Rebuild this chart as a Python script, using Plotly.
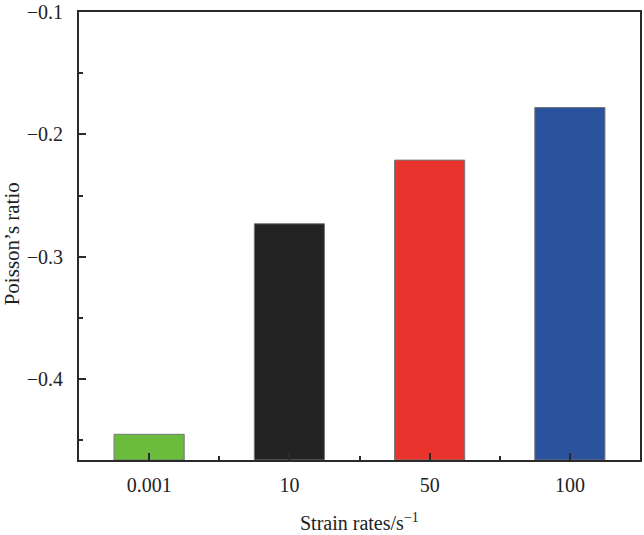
import plotly.graph_objects as go

categories = ["0.001", "10", "50", "100"]
poisson_ratio = [-0.445, -0.273, -0.221, -0.178]
bar_colors = ["#6bbb3d", "#232323", "#e8342c", "#2b529d"]
y_ticks = [-0.1, -0.2, -0.3, -0.4]

Y_MIN, Y_MAX = -0.466, -0.1
x_pos = list(range(len(categories)))

fig = go.Figure()
fig.add_trace(go.Bar(
    x=x_pos,
    y=[v - Y_MIN for v in poisson_ratio],
    base=[Y_MIN] * len(poisson_ratio),
    width=0.5,
    marker=dict(color=bar_colors, line=dict(color="#777777", width=1)),
    customdata=poisson_ratio,
    hovertemplate="%{customdata}<extra></extra>",
))

font_family = "Liberation Serif, Times New Roman, serif"
axis_color = "#2a2a2a"

fig.update_layout(
    width=644, height=535,
    margin=dict(l=79, r=4, t=12, b=75, autoexpand=False),
    paper_bgcolor="white", plot_bgcolor="white",
    font=dict(family=font_family, color="#222222", size=20),
    showlegend=False,
    bargap=0.5,
    annotations=[
        dict(text="Strain rates/s<sup>−1</sup>", xref="paper", yref="paper",
             x=0.5, y=-0.138, xanchor="center", yanchor="middle",
             showarrow=False, font=dict(size=20)),
        dict(text="Poisson’s ratio", xref="paper", yref="paper",
             x=-0.119, y=0.482, xanchor="center", yanchor="middle",
             textangle=-90, showarrow=False, font=dict(size=21)),
    ],
)
fig.update_xaxes(
    range=[-0.5, 3.5], automargin=False,
    tickmode="array", tickvals=x_pos, ticktext=categories,
    ticks="inside", ticklen=7, tickwidth=1.5, tickcolor=axis_color,
    minor=dict(tickmode="linear", tick0=0.5, dtick=1, ticks="inside", ticklen=4, tickwidth=1.5, tickcolor=axis_color),
    showline=True, linecolor=axis_color, linewidth=2, mirror=True,
    showgrid=False, zeroline=False,
    tickfont=dict(size=20),
    ticklabelstandoff=6,
)
fig.update_yaxes(
    range=[Y_MIN, Y_MAX], automargin=False,
    tickmode="array", tickvals=y_ticks, ticktext=["−0.1", "−0.2", "−0.3", "−0.4"],
    ticks="inside", ticklen=7, tickwidth=1.5, tickcolor=axis_color,
    minor=dict(tickmode="linear", tick0=-0.15, dtick=0.1, ticks="inside", ticklen=4, tickwidth=1.5, tickcolor=axis_color),
    showline=True, linecolor=axis_color, linewidth=2, mirror=True,
    showgrid=False, zeroline=False,
    tickfont=dict(size=20),
    ticklabelstandoff=10,
)

fig.write_html("out.html", config={"displayModeBar": False},
               post_script="document.body.style.margin='0';")
